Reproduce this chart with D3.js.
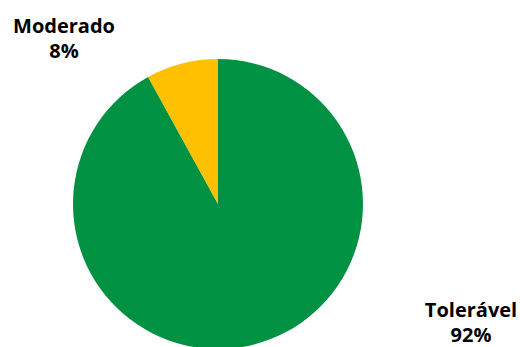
<!DOCTYPE html>
<html>
<head>
<meta charset="utf-8">
<script src="https://cdn.jsdelivr.net/npm/d3@7"></script>
<style>
  body { margin: 0; background: #fff; }
  text { font-family: "Open Sans", "DejaVu Sans", sans-serif; font-weight: bold; fill: #000; }
</style>
</head>
<body>
<script>
// categories and values (percent)
const categories = ["Tolerável", "Moderado"];
const values = [92, 8];
const colors = ["#009143", "#FFC000"];

const width = 520, height = 347;
const cx = 218, cy = 204, radius = 145;

const svg = d3.select("body").append("svg")
  .attr("width", width)
  .attr("height", height);

const pie = d3.pie().sort(null).value(d => d.value);
const arc = d3.arc().innerRadius(0).outerRadius(radius);

const data = categories.map((c, i) => ({ name: c, value: values[i], color: colors[i] }));
const arcs = pie(data);

const g = svg.append("g").attr("transform", `translate(${cx},${cy})`);

g.selectAll("path")
  .data(arcs)
  .enter()
  .append("path")
  .attr("d", arc)
  .attr("fill", d => d.data.color);

// label positions (outside the pie, like the original)
const labelPos = {
  "Tolerável": [471, 317],
  "Moderado": [64, 33]
};
const total = d3.sum(values);

const labels = svg.append("g")
  .selectAll("text")
  .data(arcs)
  .enter()
  .append("text")
  .attr("text-anchor", "middle")
  .style("font-size", "20px")
  .attr("x", d => labelPos[d.data.name][0])
  .attr("y", d => labelPos[d.data.name][1]);

labels.append("tspan")
  .attr("x", d => labelPos[d.data.name][0])
  .text(d => d.data.name);
labels.append("tspan")
  .attr("x", d => labelPos[d.data.name][0])
  .attr("dy", 25)
  .text(d => Math.round(d.data.value / total * 100) + "%");
</script>
</body>
</html>
